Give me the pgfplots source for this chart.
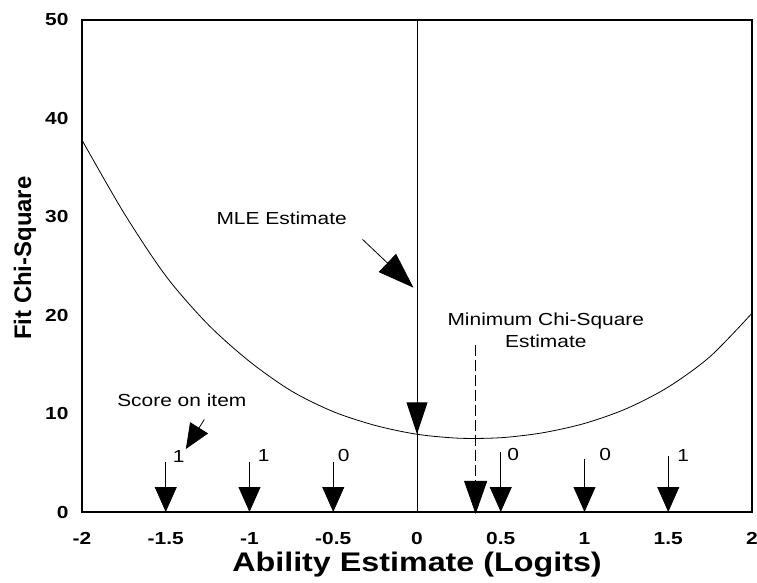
\documentclass[border=0pt]{standalone}
\usepackage{fontspec}
\setmainfont{Liberation Sans}[FakeStretch=1.2]
\newfontfamily\ylabfont{Liberation Sans}
\usepackage{pgfplots}
\pgfplotsset{compat=1.18}
\usetikzlibrary{arrows.meta}
\begin{document}
\begin{tikzpicture}
\begin{axis}[
  at={(0,0)}, anchor=south west,
  scale only axis, width=670bp, height=492bp,
  xmin=-2, xmax=2, ymin=0, ymax=50,
  clip=false,
  axis line style={line width=1.1bp},
  xtick={-2,-1.5,-1,-0.5,0,0.5,1,1.5,2},
  xticklabels={-2,-1.5,-1,-0.5,0,0.5,1,1.5,2},
  ytick={0,10,20,30,40,50},
  yticklabels={0,10,20,30,40,50},
  major tick length=0pt,
  tick label style={font=\fontsize{17.5}{20}\selectfont\bfseries},
  xticklabel style={anchor=north, yshift=-17bp},
  yticklabel style={anchor=east, xshift=-10bp},
  xlabel={Ability Estimate (Logits)},
  ylabel={Fit Chi-Square},
  xlabel style={at={(axis description cs:0.5,-0.1077)}, anchor=center, font=\fontsize{27}{30}\selectfont\bfseries},
  ylabel style={at={(axis description cs:-0.0850,0.516)}, anchor=center, font=\ylabfont\fontsize{24}{28}\selectfont\bfseries},
]
% fit chi-square curve
\addplot[black, line width=0.8bp, smooth, tension=0.5] coordinates {
  (-2,37.8) (-1.75,30.4) (-1.5,24.0) (-1.25,19.1) (-1,15.3) (-0.75,12.3)
  (-0.5,10.2) (-0.25,8.8) (0,7.9) (0.25,7.5) (0.5,7.55) (0.75,8.05)
  (1,9.0) (1.25,10.5) (1.5,12.7) (1.75,15.8) (2,20.2)};
% MLE vertical line
\addplot[black, line width=1bp] coordinates {(0,0) (0,50)};
\addplot[black, line width=1bp, -{Triangle[length=32bp,width=21bp]}] coordinates {(0,12) (0,7.9)};
% MLE annotation arrow
\addplot[black, line width=0.8bp, -{Triangle[length=36bp,width=25bp]}] coordinates {(-0.325,27.7) (-0.021,22.8)};
% Score on item arrow
\addplot[black, line width=0.8bp, -{Triangle[length=25bp,width=21bp]}] coordinates {(-1.27,9.4) (-1.38,6.4)};
% Minimum chi-square dashed arrow
\addplot[black, line width=0.8bp, dash pattern=on 11bp off 4bp, -{Triangle[length=33bp,width=23bp]}] coordinates {(0.35,17.0) (0.35,-0.2)};
% item arrows
\addplot[black, line width=0.8bp, -{Triangle[length=25bp,width=22bp]}] coordinates {(-1.5,5.1) (-1.5,0)};
\addplot[black, line width=0.8bp, -{Triangle[length=25bp,width=22bp]}] coordinates {(-1,5.1) (-1,0)};
\addplot[black, line width=0.8bp, -{Triangle[length=25bp,width=22bp]}] coordinates {(-0.5,5.1) (-0.5,0)};
\addplot[black, line width=0.8bp, -{Triangle[length=25bp,width=22bp]}] coordinates {(0.5,6.1) (0.5,0)};
\addplot[black, line width=0.8bp, -{Triangle[length=25bp,width=22bp]}] coordinates {(1,5.4) (1,0)};
\addplot[black, line width=0.8bp, -{Triangle[length=25bp,width=22bp]}] coordinates {(1.5,5.7) (1.5,0)};
% labels
\node[font=\fontsize{17.5}{20}\selectfont] at (axis cs:-0.808,29.84) {MLE Estimate};
\node[font=\fontsize{17.5}{20}\selectfont] at (axis cs:-1.404,11.35) {Score on item};
\node[font=\fontsize{17.5}{22}\selectfont, align=center] at (axis cs:0.769,18.5) {Minimum Chi-Square\\Estimate};
\node[font=\fontsize{17.5}{20}\selectfont] at (axis cs:-1.422,5.6) {1};
\node[font=\fontsize{17.5}{20}\selectfont] at (axis cs:-0.915,5.7) {1};
\node[font=\fontsize{17.5}{20}\selectfont] at (axis cs:-0.438,5.7) {0};
\node[font=\fontsize{17.5}{20}\selectfont] at (axis cs:0.575,5.8) {0};
\node[font=\fontsize{17.5}{20}\selectfont] at (axis cs:1.124,5.8) {0};
\node[font=\fontsize{17.5}{20}\selectfont] at (axis cs:1.589,5.7) {1};
\end{axis}
\pgfresetboundingbox
\path (-82bp,-71bp) rectangle (675bp,512bp);
\end{tikzpicture}
\end{document}
